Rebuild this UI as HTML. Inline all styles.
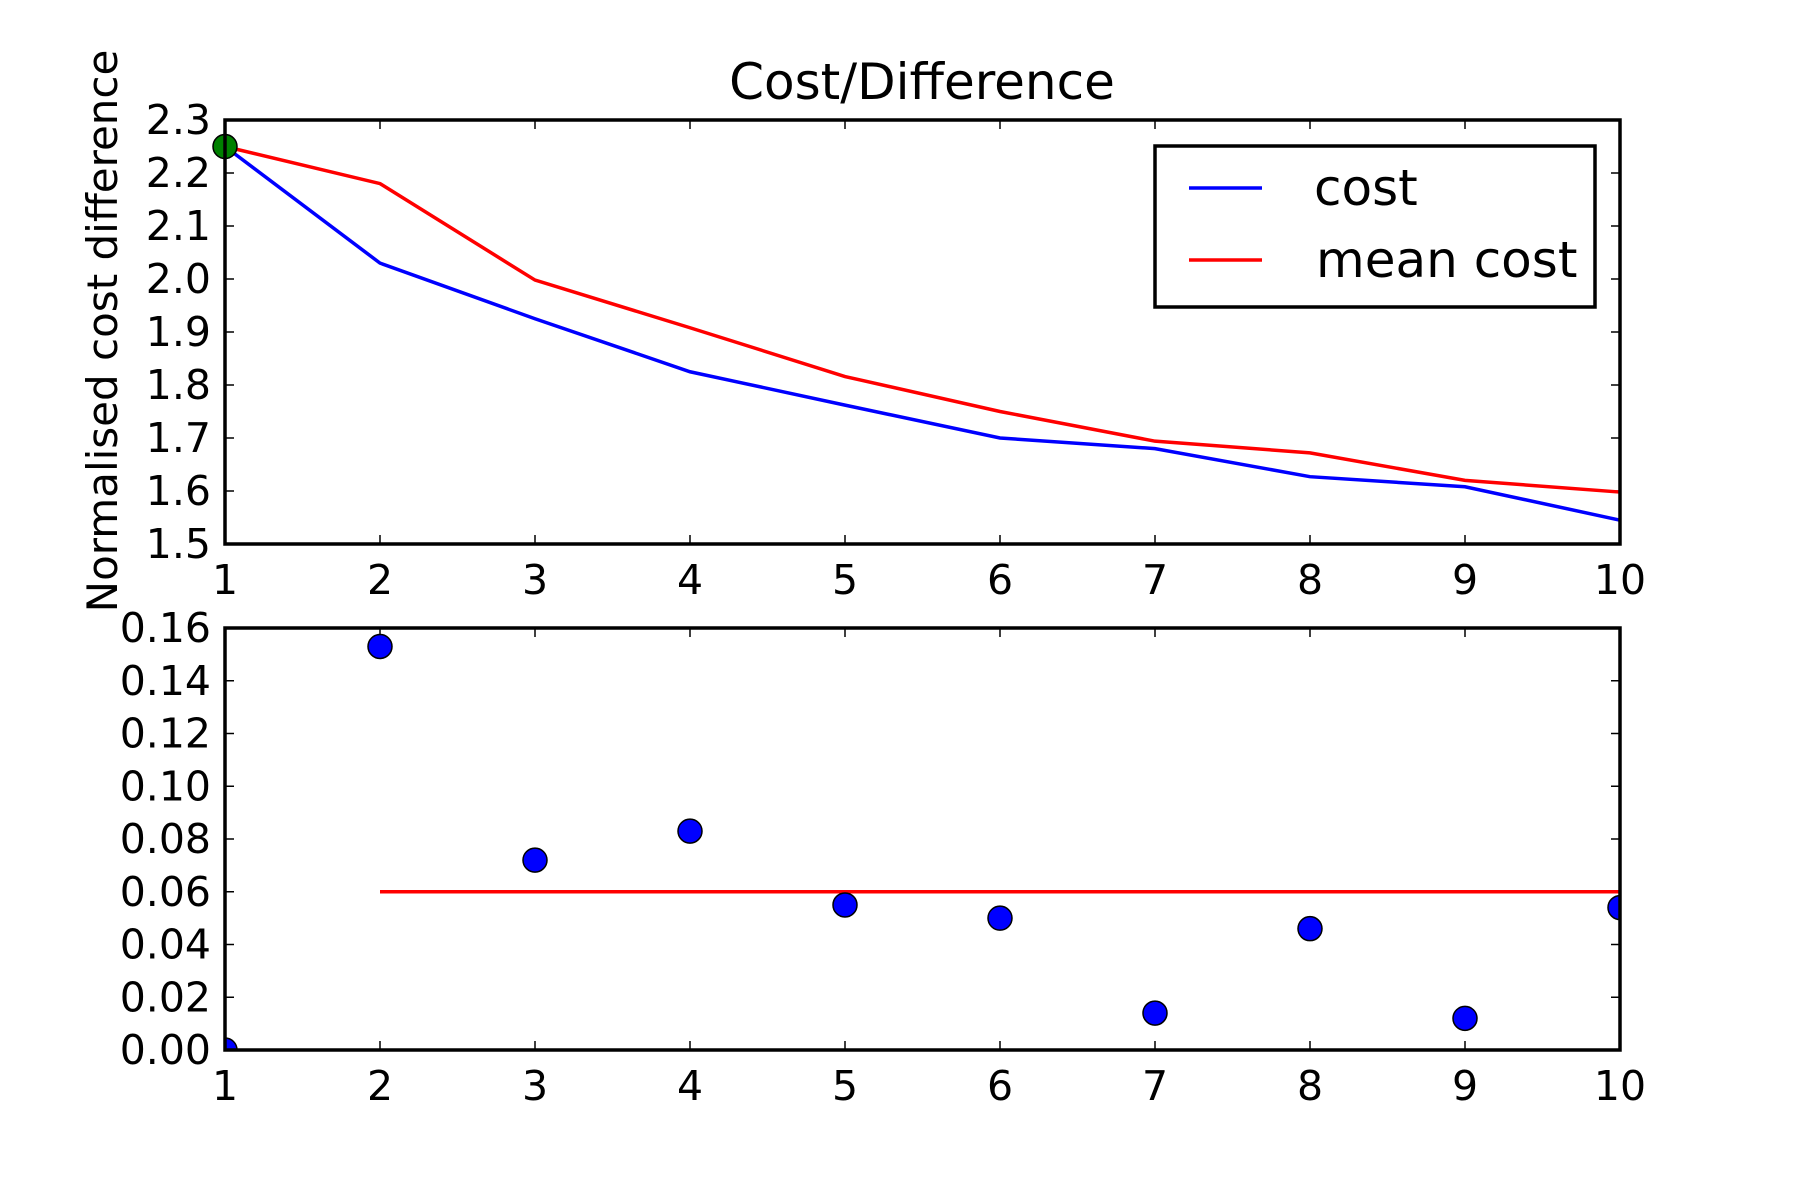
<!DOCTYPE html>
<html><head><meta charset="utf-8"><style>html,body{margin:0;padding:0;background:#fff}svg{display:block}text{font-family:"DejaVu Sans","Liberation Sans",sans-serif}</style></head>
<body>
<svg id="chart" width="1800" height="1200" viewBox="0 0 1800 1200" xmlns="http://www.w3.org/2000/svg">
<rect width="1800" height="1200" fill="#fff"/>
<text x="922" y="99" font-size="50" text-anchor="middle">Cost/Difference</text>
<text transform="translate(117,331) rotate(-90)" font-size="42" text-anchor="middle">Normalised cost difference</text>
<g id="top"></g>
<g id="bot"></g>
</svg>
<script>
const xCats = [1,2,3,4,5,6,7,8,9,10];
const costVals = [2.25,2.03,1.925,1.825,1.762,1.70,1.68,1.627,1.608,1.545];
const meanVals = [2.25,2.18,1.998,1.908,1.816,1.75,1.694,1.672,1.62,1.598];
const topTicks = [1.5,1.6,1.7,1.8,1.9,2.0,2.1,2.2,2.3];
const diffVals = [0,0.153,0.072,0.083,0.055,0.050,0.014,0.046,0.012,0.054];
const meanDiffX = [2,10];
const meanDiffVals = [0.06,0.06];
const botTicks = [0,0.02,0.04,0.06,0.08,0.10,0.12,0.14,0.16];
const NS='http://www.w3.org/2000/svg';
function mk(tag,attrs,parent){const e=document.createElementNS(NS,tag);for(const k in attrs)e.setAttribute(k,attrs[k]);parent.appendChild(e);return e;}
const L=225,R=1620;
const sx=v=>L+(v-1)/9*(R-L);
function axes(g,top,bot,ymin,ymax,ticks,fmt,prefix){
  const sy=v=>bot-(v-ymin)/(ymax-ymin)*(bot-top);
  ticks.forEach(t=>{
    const y=sy(t);
    let l=mk('line',{x1:L,x2:L+9,y1:y,y2:y,stroke:'#000','stroke-width':1.5},g);
    
    
    l=mk('line',{x1:R,x2:R-9,y1:y,y2:y,stroke:'#000','stroke-width':1.5},g);
    
    
    const tx=mk('text',{x:L-14,y:y+14,'font-size':41,'text-anchor':'end'},g);
    tx.textContent=fmt(t);
    
    
  });
  xCats.forEach(c=>{
    const x=sx(c);
    let l=mk('line',{x1:x,x2:x,y1:bot,y2:bot-9,stroke:'#000','stroke-width':1.5},g);
    
    
    l=mk('line',{x1:x,x2:x,y1:top,y2:top+9,stroke:'#000','stroke-width':1.5},g);
    
    
    const tx=mk('text',{x:x,y:bot+50,'font-size':41,'text-anchor':'middle'},g);
    tx.textContent=String(c);
    
    
  });
  return sy;
}
const gt=document.getElementById('top');


const T1=120,B1=544;
const sy1=axes(gt,T1,B1,1.5,2.3,topTicks,v=>v.toFixed(1),'top');
let p=mk('polyline',{points:xCats.map((c,i)=>sx(c)+','+sy1(costVals[i])).join(' '),fill:'none',stroke:'#0000ff','stroke-width':3.5},gt);


p=mk('polyline',{points:xCats.map((c,i)=>sx(c)+','+sy1(meanVals[i])).join(' '),fill:'none',stroke:'#ff0000','stroke-width':3.5},gt);


p=mk('circle',{cx:sx(xCats[0]),cy:sy1(costVals[0]),r:12,fill:'#008000',stroke:'#000','stroke-width':1.5},gt);


p=mk('rect',{x:L,y:T1,width:R-L,height:B1-T1,fill:'none',stroke:'#000','stroke-width':3.5},gt);


const lg=mk('g',{},gt);


p=mk('rect',{x:1155,y:146,width:440,height:161,fill:'#fff',stroke:'#000','stroke-width':3.5},lg);


p=mk('line',{x1:1189,x2:1262,y1:188,y2:188,stroke:'#0000ff','stroke-width':3.5},lg);


p=mk('text',{x:1314,y:205,'font-size':50},lg);p.textContent='cost';


p=mk('line',{x1:1189,x2:1262,y1:260,y2:260,stroke:'#ff0000','stroke-width':3.5},lg);


p=mk('text',{x:1316,y:277,'font-size':50},lg);p.textContent='mean cost';


const gb=document.getElementById('bot');


const T2=628,B2=1050;
const sy2=axes(gb,T2,B2,0,0.16,botTicks,v=>v.toFixed(2),'bottom');
p=mk('polyline',{points:meanDiffX.map((c,i)=>sx(c)+','+sy2(meanDiffVals[i])).join(' '),fill:'none',stroke:'#ff0000','stroke-width':3.5},gb);


const clip=mk('clipPath',{id:'bc'},gb);mk('rect',{x:L,y:T2,width:R-L,height:B2-T2},clip);
const pts=mk('g',{'clip-path':'url(#bc)'},gb);
xCats.forEach((c,i)=>{
  const d=mk('circle',{cx:sx(c),cy:sy2(diffVals[i]),r:12,fill:'#0000ff',stroke:'#000','stroke-width':1.5},pts);
  
  
});
p=mk('rect',{x:L,y:T2,width:R-L,height:B2-T2,fill:'none',stroke:'#000','stroke-width':3.5},gb);


</script>
</body></html>
